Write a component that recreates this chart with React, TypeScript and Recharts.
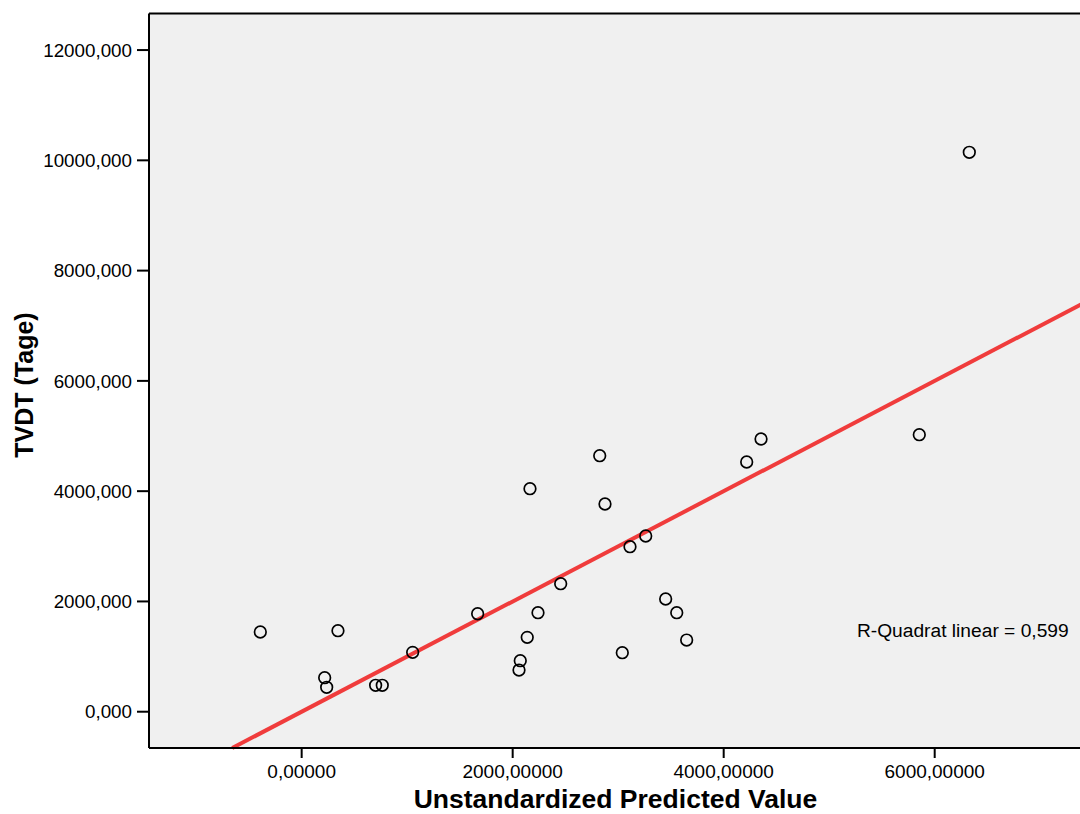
import React from 'react';
import {
  ScatterChart,
  Scatter,
  XAxis,
  YAxis,
  CartesianGrid,
  ReferenceLine,
  ReferenceDot,
} from 'recharts';

// ---- data ----
const predictedValues = [
  -392, 344, 218, 237, 701, 764, 1052, 1668, 2164, 2825, 2875, 3261, 3112,
  2455, 2240, 2138, 2072, 2060, 3039, 3450, 3555, 3649, 6328, 5854, 4354, 4218,
];
const observedValues = [
  1446, 1469, 617, 443, 479, 479, 1077, 1777, 4045, 4643, 3767, 3187, 2993,
  2322, 1796, 1349, 925, 756, 1070, 2044, 1796, 1300, 10146, 5024, 4946, 4529,
];
const xTicks = [0, 2000, 4000, 6000];
const yTicks = [0, 2000, 4000, 6000, 8000, 10000, 12000];
const xDomain = [-1447, 7472];
const yDomain = [-658, 12663];
// linear fit (observed on predicted): intercept 0, slope 1
const fitStart = { x: -658, y: -658 };
const fitEnd = { x: 7472, y: 7472 };
const rSquaredText = 'R-Quadrat linear = 0,599';
const rSquaredPos = { x: 5263, y: 1349 };
const xTitle = 'Unstandardized Predicted Value';
const yTitle = 'TVDT (Tage)';

const points = predictedValues.map((x, i) => ({ x, y: observedValues[i] }));

const FONT = '"Liberation Sans", Arial, Helvetica, sans-serif';

const fmtX = (v: number) => v.toFixed(5).replace('.', ',');
const fmtY = (v: number) => v.toFixed(3).replace('.', ',');

const CircleShape = (props: any) => {
  const { cx, cy } = props;
  if (cx == null || cy == null) return <g />;
  return (
    <circle cx={cx} cy={cy} r={5.8} fill="none" stroke="#000" strokeWidth={1.7} />
  );
};

const XTitle = (props: any) => {
  const vb = props.viewBox || {};
  return (
    <text
      x={vb.x + vb.width / 2 - 4}
      y={808}
      textAnchor="middle"
      fontFamily={FONT}
      fontWeight="bold"
      fontSize={26.5}
      fill="#000"
    >
      {xTitle}
    </text>
  );
};

const YTitle = () => {
  return (
    <text
      x={0}
      y={0}
      transform="translate(33, 385) rotate(-90)"
      textAnchor="middle"
      fontFamily={FONT}
      fontWeight="bold"
      fontSize={25}
      fill="#000"
    >
      {yTitle}
    </text>
  );
};

const RSquaredLabel = (props: any) => {
  const vb = props.viewBox || {};
  return (
    <text
      x={vb.x}
      y={vb.y}
      textAnchor="start"
      fontFamily={FONT}
      fontSize={19.2}
      fill="#000"
    >
      {rSquaredText}
    </text>
  );
};

export default function App() {
  return (
    <div
      style={{
        position: 'fixed',
        left: 0,
        top: 0,
        width: 1080,
        height: 814,
        overflow: 'hidden',
        background: '#fff',
      }}
    >
      <ScatterChart
        width={1100}
        height={814}
        margin={{ top: 13.5, right: 10, bottom: 0, left: 0 }}
      >
        <CartesianGrid horizontal={false} vertical={false} fill="#f0f0f0" />
        <XAxis
          type="number"
          dataKey="x"
          domain={xDomain}
          ticks={xTicks}
          allowDataOverflow
          height={66}
          tickFormatter={fmtX}
          axisLine={{ stroke: '#000', strokeWidth: 2 }}
          tickLine={{ stroke: '#000', strokeWidth: 2 }}
          tickSize={10}
          tickMargin={7}
          tick={{ fill: '#000', fontSize: 19, fontFamily: FONT }}
          label={<XTitle />}
        />
        <YAxis
          type="number"
          dataKey="y"
          domain={yDomain}
          ticks={yTicks}
          allowDataOverflow
          width={149}
          tickFormatter={fmtY}
          axisLine={{ stroke: '#000', strokeWidth: 2 }}
          tickLine={{ stroke: '#000', strokeWidth: 2 }}
          tickSize={12}
          tickMargin={5}
          tick={{ fill: '#000', fontSize: 18.8, fontFamily: FONT }}
          label={<YTitle />}
        />
        <ReferenceLine y={yDomain[1]} stroke="#000" strokeWidth={2} />
        <Scatter
          data={points}
          shape={<CircleShape />}
          isAnimationActive={false}
        />
        <ReferenceLine
          segment={[fitStart, fitEnd]}
          stroke="#f03c3c"
          strokeWidth={4}
        />
        <ReferenceDot
          x={rSquaredPos.x}
          y={rSquaredPos.y}
          r={0}
          fill="none"
          stroke="none"
          label={<RSquaredLabel />}
        />
      </ScatterChart>
    </div>
  );
}
